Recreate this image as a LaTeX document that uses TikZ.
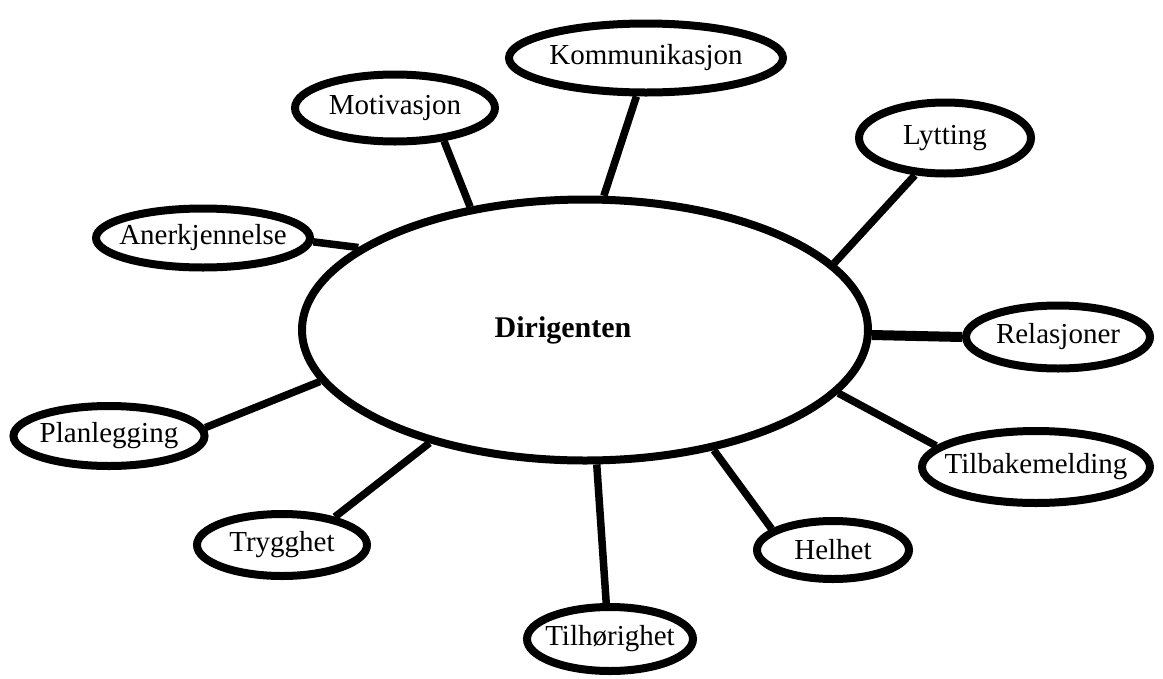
\documentclass[tikz,border=0pt]{standalone}
\usepackage{fontspec}
\setmainfont{Liberation Serif}
\usetikzlibrary{shapes.geometric}

\newcommand{\lbl}[1]{\makebox[0pt]{#1}}

\begin{document}
\begin{tikzpicture}[
    x=1pt, y=-1pt,
    topic/.style={ellipse, draw, line width=8pt, inner sep=0pt, font=\fontsize{29}{34}\selectfont},
    link/.style={line width=7.5pt}
]
\useasboundingbox (0,0) rectangle (1163,678);

\node[topic, minimum width=566pt, minimum height=261pt] (dir) at (585,330) {};
\node[font=\bfseries\fontsize{30}{36}\selectfont] (dirlbl) at (563,330) {Dirigenten};

\node[topic, minimum width=274pt, minimum height=69pt] (kom) at (646,58) {\lbl{Kommunikasjon}};
\node[topic, minimum width=200pt, minimum height=67pt] (mot) at (395,108) {\lbl{Motivasjon}};
\node[topic, minimum width=172pt, minimum height=71pt] (lyt) at (945,138) {\lbl{Lytting}};
\node[topic, minimum width=214pt, minimum height=59pt] (ane) at (203,238) {\lbl{Anerkjennelse}};
\node[topic, minimum width=184pt, minimum height=63pt] (rel) at (1058,337) {\lbl{Relasjoner}};
\node[topic, minimum width=191pt, minimum height=60pt] (pla) at (109,436) {\lbl{Planlegging}};
\node[topic, minimum width=228pt, minimum height=72pt] (tib) at (1036,467) {\lbl{Tilbakemelding}};
\node[topic, minimum width=170pt, minimum height=62pt] (try) at (282,545) {\lbl{Trygghet}};
\node[topic, minimum width=152pt, minimum height=58pt] (hel) at (833,550) {\lbl{Helhet}};
\node[topic, minimum width=166pt, minimum height=64pt] (tho) at (610,639) {\lbl{Tilhørighet}};

\draw[link] (dir.82.8) -- (kom.-104.4);
\draw[link] (dir.133.8) -- (mot.-34);
\draw[link] (dir.15.4) -- (lyt.-129);
\draw[link] (dir.160.1) -- (ane.-2);
\draw[link, line width=10pt] (dir.-1.4) -- (rel.180);
\draw[link] (dir.-169.9) -- (pla.5.5);
\draw[link] (dir.-14.1) -- (tib.168.2);
\draw[link] (dir.-144.4) -- (try.28.6);
\draw[link] (dir.-43.2) -- (hel.161.3);
\draw[link] (dir.-85.7) -- (tho.96.3);

\end{tikzpicture}
\end{document}
